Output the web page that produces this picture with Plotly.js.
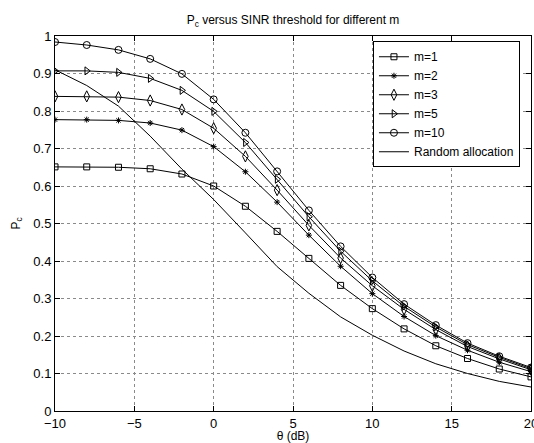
<!DOCTYPE html>
<html>
<head>
<meta charset="utf-8">
<script src="https://cdn.plot.ly/plotly-3.0.1.min.js"></script>
<style>html,body{margin:0;padding:0;background:#fff;overflow:hidden;}#chart{width:534px;height:443px;}</style>
</head>
<body>
<div id="chart"></div>
<script>
var theta = [-10,-8,-6,-4,-2,0,2,4,6,8,10,12,14,16,18,20];
var m1  = [0.651,0.651,0.650,0.646,0.632,0.600,0.546,0.479,0.407,0.335,0.273,0.219,0.174,0.140,0.112,0.091];
var m2  = [0.777,0.777,0.775,0.768,0.749,0.705,0.638,0.557,0.469,0.386,0.313,0.252,0.201,0.162,0.130,0.105];
var m3  = [0.839,0.839,0.837,0.828,0.804,0.754,0.679,0.589,0.495,0.408,0.334,0.271,0.217,0.172,0.139,0.110];
var m5  = [0.907,0.907,0.903,0.887,0.855,0.799,0.716,0.618,0.518,0.426,0.347,0.279,0.224,0.177,0.143,0.113];
var m10 = [0.984,0.976,0.963,0.939,0.899,0.831,0.742,0.639,0.535,0.439,0.356,0.285,0.229,0.181,0.146,0.116];
var randomAlloc = [0.910,0.868,0.813,0.733,0.645,0.564,0.475,0.385,0.314,0.251,0.202,0.160,0.126,0.100,0.079,0.064];
var names = ['m=1','m=2','m=3','m=5','m=10','Random allocation'];
var xTicks = [-10,-5,0,5,10,15,20];
var yTicks = [0,0.1,0.2,0.3,0.4,0.5,0.6,0.7,0.8,0.9,1];

function tr(y, name, sym, size) {
  var t = {x: theta, y: y, name: name, type: 'scatter',
    line: {color: '#000', width: 1}};
  if (sym) {
    t.mode = 'lines+markers';
    t.marker = {symbol: sym, size: size, color: '#000', line: {color: '#000', width: 1}};
  } else {
    t.mode = 'lines';
  }
  return t;
}
var data = [
  tr(m1, names[0], 'square-open', 6),
  tr(m2, names[1], 'asterisk-open', 5),
  tr(m3, names[2], 'diamond-tall-open', 8),
  tr(m5, names[3], 'triangle-right-open', 7),
  tr(m10, names[4], 'circle-open', 7),
  tr(randomAlloc, names[5], null, 0)
];
var fontFam = 'Liberation Sans, Arial, Helvetica, sans-serif';
var axisCommon = {
  showline: true, linecolor: '#000', linewidth: 1, mirror: 'ticks',
  ticks: 'inside', ticklen: 5, tickcolor: '#000',
  showgrid: true, gridcolor: '#8a8a8a', griddash: 'dot', gridwidth: 1,
  zeroline: false, ticklabeloverflow: 'allow',
  tickfont: {family: fontFam, size: 13, color: '#000'}
};
var layout = {
  width: 534, height: 443,
  margin: {l: 55, r: 3, t: 36, b: 32, pad: 0},
  paper_bgcolor: '#fff', plot_bgcolor: '#fff',
  font: {family: fontFam, color: '#000'},
  title: {text: 'P<sub>c</sub> versus SINR threshold for different m',
    font: {family: fontFam, size: 12, color: '#000'},
    x: 0.5, xref: 'paper', y: 0.955, yref: 'container', yanchor: 'middle'},
  xaxis: Object.assign({}, axisCommon, {
    range: [-10, 20], tickvals: xTicks,
    title: {text: 'θ (dB)', font: {family: fontFam, size: 12, color: '#000'}, standoff: 2}
  }),
  yaxis: Object.assign({}, axisCommon, {
    range: [0, 1], tickvals: yTicks,
    title: {text: 'P<sub>c</sub>', font: {family: fontFam, size: 12, color: '#000'}, standoff: 10}
  }),
  showlegend: true,
  legend: {x: 0.668, y: 0.986, xanchor: 'left', yanchor: 'top',
    bgcolor: '#fff', bordercolor: '#000', borderwidth: 1,
    font: {family: fontFam, size: 12, color: '#000'},
    tracegroupgap: 0, itemwidth: 30}
};
Plotly.newPlot('chart', data, layout, {displayModeBar: false, staticPlot: true});
</script>
</body>
</html>
